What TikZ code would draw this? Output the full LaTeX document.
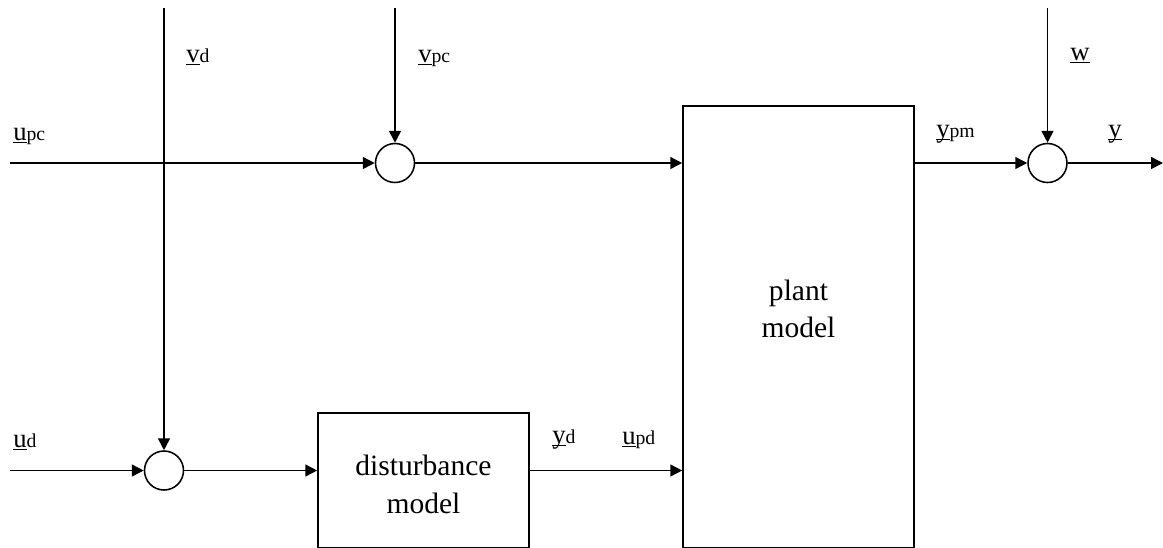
\documentclass[tikz,border=0pt]{standalone}
\usepackage{fontspec}
\setmainfont{Liberation Serif}
\usetikzlibrary{arrows.meta}

\newsavebox{\sigbox}
\newcommand{\subsz}{\fontsize{14}{14}\selectfont}
\newcommand{\sig}[2]{\sbox{\sigbox}{#1}\rlap{\rule[-2pt]{\wd\sigbox}{0.6pt}}\usebox{\sigbox}{\subsz #2}}

\tikzset{
    sumpt/.style = {circle, draw, line width = 1.1pt, minimum size = 0.975cm, inner sep = 0pt},
    block/.style = {draw, line width = 1.1pt, inner sep = 0pt},
    blocktext/.style = {align = center, inner sep = 0pt, font = \fontsize{21}{#1}\selectfont},
    sig/.style = {anchor = base west, inner sep = 0pt, font = \fontsize{19}{19}\selectfont},
    flow/.style = {line width = 1.1pt, -{Triangle[length = 8.5pt, width = 8.5pt]}}
}

\begin{document}
\begin{tikzpicture}[x = 0.025cm, y = -0.025cm]
    \useasboundingbox (0, 0) rectangle (1163, 547);
    \clip (0, 0) rectangle (1163, 547);

    % summing points
    \node[sumpt] (s1) at (395, 163) {};
    \node[sumpt] (s2) at (164, 470.5) {};
    \node[sumpt] (s3) at (1047.5, 163) {};

    % blocks (cut off at the bottom edge)
    \node[block, minimum width = 5.275cm, minimum height = 3.375cm] (dist) at (423.5, 480.5) {};
    \node[blocktext = 27pt] (distText) at (423.5, 484) {disturbance\\model};
    \node[block, minimum width = 5.775cm, minimum height = 11.05cm] (plant) at (798.5, 327) {};
    \node[blocktext = 26pt] (plantText) at (798.5, 309) {plant\\model};

    % free ends
    \coordinate (upcIn) at (10, 163);
    \coordinate (udIn) at (10, 470.5);
    \coordinate (vdIn) at (164, 8);
    \coordinate (vpcIn) at (395, 8);
    \coordinate (wIn) at (1047.5, 8);
    \coordinate (yOut) at (1163, 163);

    % connectors
    \draw[flow] (upcIn) -- (s1.west);
    \draw[flow] (vpcIn) -- (s1.north);
    \draw[flow] (s1.east) -- (plant.west |- s1.east);
    \draw[flow] (vdIn) -- (s2.north);
    \draw[flow] (udIn) -- (s2.west);
    \draw[flow] (s2.east) -- (dist.west |- s2.east);
    \draw[flow] (dist.east |- s2.east) -- (plant.west |- s2.east);
    \draw[flow] (plant.east |- s3.west) -- (s3.west);
    \draw[flow] (wIn) -- (s3.north);
    \draw[flow] (s3.east) -- (yOut);

    % signal labels
    \node[sig] (lupc) at (13, 140) {\sig{u}{pc}};
    \node[sig] (lvd) at (186, 62) {\sig{v}{d}};
    \node[sig] (lvpc) at (418, 62) {\sig{v}{pc}};
    \node[sig] (lw) at (1070, 60) {\sig{w}{}};
    \node[sig] (lypm) at (936, 137) {\sig{y}{pm}};
    \node[sig] (ly) at (1108, 137) {\sig{y}{}};
    \node[sig] (lud) at (13, 447) {\sig{u}{d}};
    \node[sig] (lyd) at (552, 443) {\sig{y}{d}};
    \node[sig] (lupd) at (622, 444) {\sig{u}{pd}};
\end{tikzpicture}
\end{document}
